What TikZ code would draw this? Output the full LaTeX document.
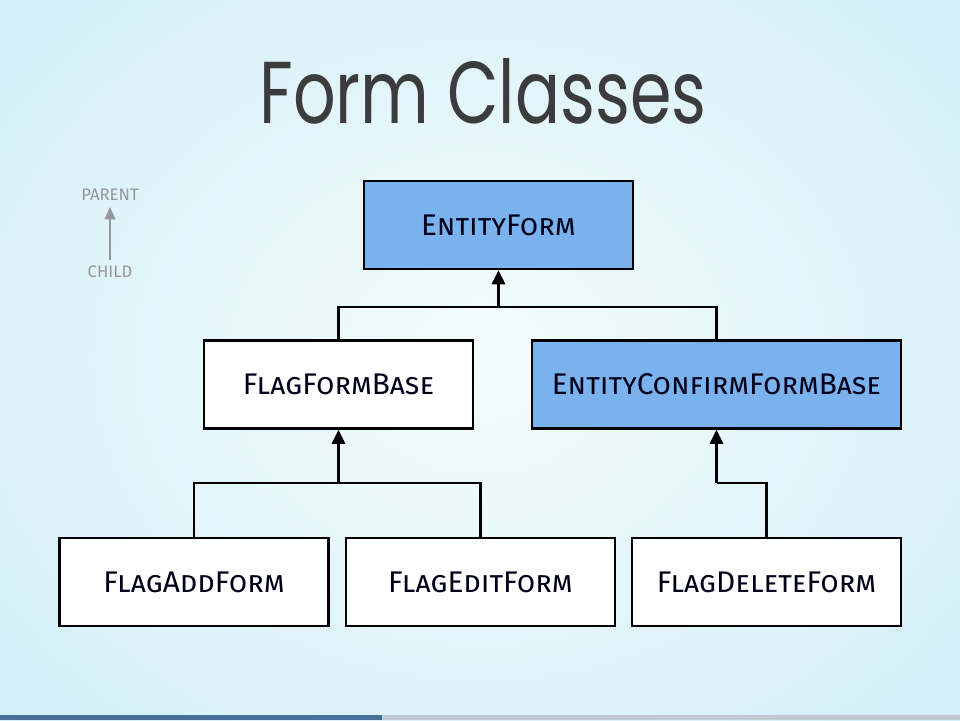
\documentclass[tikz,border=0pt]{standalone}
\usepackage{fontspec}
\setmainfont{Fira Sans}
\newfontfamily\titlefont{Poppins}
\usetikzlibrary{arrows.meta}

\definecolor{classblue}{RGB}{122,178,238}
\definecolor{bgin}{RGB}{244,252,252}
\definecolor{bgout}{RGB}{208,238,247}
\definecolor{inkgrey}{RGB}{60,60,62}
\definecolor{legendgrey}{RGB}{150,150,156}
\definecolor{bardone}{RGB}{72,112,150}
\definecolor{barrest}{RGB}{192,202,208}

\begin{document}
\begin{tikzpicture}[x=0.02cm,y=-0.02cm]
		\tikzstyle{cls}=[draw=black,line width=1.4pt,fill=white,minimum width=5.38cm,minimum height=1.76cm,inner sep=0pt,font=\fontsize{17}{20}\selectfont\scshape,text=black!90!blue]
		\tikzstyle{abstract}=[cls,fill=classblue]
		\tikzstyle{link}=[line width=1.4pt]
		\tikzstyle{inherit}=[link,-{Triangle[width=7.5pt,length=8pt]}]
		\tikzstyle{legend}=[font=\fontsize{9.5}{11}\selectfont,text=legendgrey]

		% backdrop
		\useasboundingbox (0,0) rectangle (960,720);
		\shade[inner color=bgin,outer color=bgout] (-200,-200) rectangle (1160,920);
		\fill[bardone] (0,715) rectangle (382,720);
		\fill[barrest] (382,715) rectangle (960,720);

		\node[font=\titlefont\fontsize{50}{60}\selectfont,text=inkgrey,xscale=0.76] (T) at (483,91) {Form Classes};

		% legend
		\node[legend] (P) at (110,195) {PARENT};
		\node[legend] (C) at (110,272) {CHILD};
		\draw[legendgrey,line width=1.2pt,-{Triangle[width=6pt,length=7pt]}] (C.north) -- (P.south);

		\node[abstract] (EF) at (498.5,225) {EntityForm};
		\node[cls] (FB) at (338.5,384.5) {FlagFormBase};
		\node[abstract,minimum width=7.38cm] (CB) at (716.5,384.5) {EntityConfirmFormBase};
		\node[cls] (AF) at (194,582) {FlagAddForm};
		\node[cls] (EdF) at (480.5,582) {FlagEditForm};
		\node[cls] (DF) at (766.5,582) {FlagDeleteForm};

		\coordinate (J1) at (498.5,307);
		\coordinate (J2) at (338.5,483);
		\coordinate (J3) at (716.5,483);

		\draw[link] (FB.north) |- (J1) -| (CB.north);
		\draw[inherit] (J1) -- (EF.south);
		\draw[link] (AF.north) |- (J2) -| (EdF.north);
		\draw[inherit] (J2) -- (FB.south);
		\draw[link] (DF.north) |- (J3);
		\draw[inherit] (J3) -- (CB.south);
	\end{tikzpicture}
\end{document}
